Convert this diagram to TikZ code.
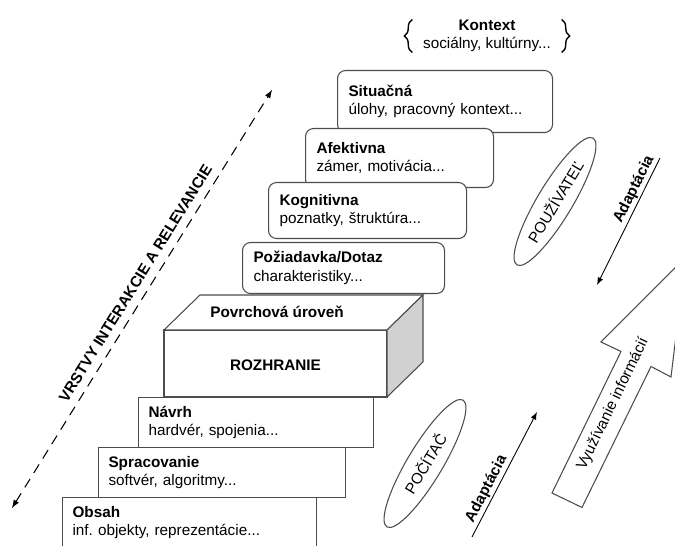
\documentclass[tikz,border=0pt]{standalone}
\usepackage{fontspec}
\setmainfont{Liberation Sans}
\usepackage{tikz}
\usepackage{tkz-euclide}
\usetikzlibrary{calc, arrows.meta, positioning, shapes.geometric, decorations.pathreplacing}
\newcommand{\fsz}{\fontsize{8.7}{10.6}\selectfont}
\tikzset{
  face/.style={draw=black!70, line width=0.6pt},
  layer/.style={face, fill=white, anchor=north west, align=left, inner xsep=0.2cm, minimum height=1cm, font=\fsz},
  level/.style={layer, rounded corners=0.16cm, inner xsep=0.22cm},
  actor/.style={face, ellipse, rotate=59, minimum width=2.96cm, minimum height=0.7cm, inner sep=0pt, font=\fsz},
  adapt/.style={line width=0.5pt},
  lbl/.style={font=\fsz\bfseries, sloped, above, inner sep=1pt},
  curly/.style={decorate, decoration={brace, amplitude=0.16cm}, line width=0.8pt}
}

\begin{document}
\begin{tikzpicture}[>=latex, scale=1]
\useasboundingbox (0,0) rectangle (13.5,10.92);
\clip (0,0) rectangle (13.5,10.92);
\node[level, text width=3.86cm, minimum height=1.24cm] (sit) at (6.74,9.52) {\textbf{Situačná}\\úlohy, pracovný kontext...};
\node[level, text width=3.32cm, minimum height=1.18cm] (afe) at (6.10,8.36) {\textbf{Afektivna}\\zámer, motivácia...};
\node[level, text width=3.52cm, minimum height=1.12cm] (kog) at (5.36,7.28) {\textbf{Kognitivna}\\poznatky, štruktúra...};
\node[level, text width=3.60cm, minimum height=1.02cm] (poz) at (4.84,6.08) {\textbf{Požiadavka/Dotaz}\\charakteristiky...};
\tkzDefPoints{3.28/2.98/a, 7.74/2.98/b, 7.74/4.32/c, 3.28/4.32/d, 4.00/5.02/e}
\tkzDefPointsBy[translation = from d to e](c,b){f,g}
\draw[face, fill=white] (a) -- (b) -- (c) -- (d) -- cycle;
\draw[face, fill=white] (d) -- (c) -- (f) -- (e) -- cycle;
\draw[face, fill=black!18] (b) -- (g) -- (f) -- (c) -- cycle;
\node[font=\fsz\bfseries] (pov) at (5.54,4.68) {Povrchová úroveň};
\node[font=\fsz\bfseries] (roz) at (5.51,3.62) {ROZHRANIE};
\node[layer, text width=4.30cm] (nav) at (2.76,2.98) {\textbf{Návrh}\\hardvér, spojenia...};
\node[layer, text width=4.54cm] (spr) at (1.96,1.98) {\textbf{Spracovanie}\\softvér, algoritmy...};
\node[layer, text width=4.68cm] (obs) at (1.24,0.98) {\textbf{Obsah}\\inf.\ objekty, reprezentácie...};
\node[font=\fsz, align=center, inner xsep=0.21cm, inner ysep=0pt] (ctx) at (9.74,10.2) {\textbf{Kontext}\\sociálny, kultúrny...};
\draw[curly] (ctx.south west) -- (ctx.north west);
\draw[curly] (ctx.north east) -- (ctx.south east);
\node[actor] (usr) at (11.10,6.89) {POUŽÍVATEĽ};
\node[actor] (pc) at (8.50,1.65) {POČÍTAČ};
\coordinate (u1) at (11.94,5.22);
\coordinate (u2) at (13.20,7.76);
\draw[adapt, <-] (u1) -- node[lbl, pos=0.72] {Adaptácia} (u2);
\coordinate (d1) at (9.44,0.18);
\coordinate (d2) at (10.74,2.68);
\draw[adapt, ->] (d1) -- node[lbl, pos=0.35] {Adaptácia} (d2);
\coordinate (v1) at (0.24,0.76);
\coordinate (v2) at (5.44,9.12);
\draw[<->, dash pattern=on 0.2cm off 0.14cm, line width=0.6pt] (v1) -- node[lbl, pos=0.52, inner sep=4.5pt] {VRSTVY INTERAKCIE A RELEVANCIE} (v2);
\tkzDefPoints{11.04/1.06/p, 11.64/0.77/q, 13.02/3.59/r, 13.42/3.38/s, 13.71/5.77/t, 12.02/4.08/w, 12.42/3.89/x}
\draw[face, fill=white] (p) -- (q) -- (r) -- (s) -- (t) -- (w) -- (x) -- cycle;
\node[font=\fsz, rotate=64] (info) at (12.26,2.84) {Využívanie informácií};
\end{tikzpicture}
\end{document}
